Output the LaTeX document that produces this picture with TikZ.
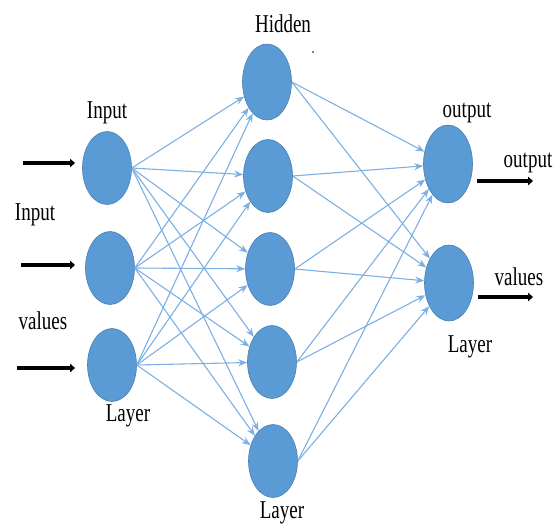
\documentclass[tikz,border=0pt]{standalone}
\usepackage{fontspec}
\setmainfont{Liberation Serif}
\usetikzlibrary{shapes.geometric,arrows.meta}
\definecolor{nodefill}{HTML}{5B9BD5}
\definecolor{nodeedge}{HTML}{4A7EB0}
\definecolor{linkcol}{HTML}{7DB0E2}
\tikzset{
  neuron/.style={ellipse,fill=nodefill,draw=nodeedge,line width=0.6pt,minimum width=49pt,minimum height=73pt,inner sep=0pt},
  link/.style={draw=linkcol,line width=1.1pt,-{Stealth[length=9pt,width=7pt]}},
  fatarrow/.style={line width=4.6pt,-{Triangle[length=5pt,width=8.5pt]}},
  lbl/.style={inner sep=0pt,font=\fontsize{19}{21}\selectfont}
}
\newcommand{\stretched}[1]{\scalebox{1}[1.35]{#1}}
\begin{document}
\begin{tikzpicture}[x=1pt,y=-1pt]
\useasboundingbox (0,0) rectangle (557,527);
% input layer
\node[neuron] (I1) at (107,168) {};
\node[neuron] (I2) at (110,268) {};
\node[neuron] (I3) at (112,365) {};
% hidden layer
\node[neuron,minimum height=76pt] (H1) at (267,82) {};
\node[neuron] (H2) at (268,176) {};
\node[neuron] (H3) at (270,269) {};
\node[neuron] (H4) at (272,362) {};
\node[neuron] (H5) at (273,461) {};
% output layer
\node[neuron,minimum height=78pt] (O1) at (448,164) {};
\node[neuron,minimum height=76pt] (O2) at (449,283) {};
% links
\foreach \i in {1,2,3}{
  \foreach \h in {1,...,5}{
    \draw[link] (I\i.east) -- (H\h);
  }
}
\foreach \h in {1,...,5}{
  \foreach \o in {1,2}{
    \draw[link] (H\h.east) -- (O\o);
  }
}
% input arrows
\coordinate (a1s) at (23,163); \coordinate (a1e) at (75,163);
\coordinate (a2s) at (21,265); \coordinate (a2e) at (75,265);
\coordinate (a3s) at (17,368); \coordinate (a3e) at (75,368);
\draw[fatarrow] (a1s) -- (a1e);
\draw[fatarrow] (a2s) -- (a2e);
\draw[fatarrow] (a3s) -- (a3e);
% output arrows
\coordinate (b1s) at (477,181); \coordinate (b1e) at (533,181);
\coordinate (b2s) at (478,297); \coordinate (b2e) at (533,297);
\draw[fatarrow] (b1s) -- (b1e);
\draw[fatarrow] (b2s) -- (b2e);
% labels
\node[lbl] (tHidden) at (283,24) {\stretched{Hidden}};
\node[lbl] (tIn1) at (107,113) {\stretched{Input}};
\node[lbl] (tIn2) at (35,215) {\stretched{Input}};
\node[lbl] (tVal1) at (43,321) {\stretched{values}};
\node[lbl] (tLay1) at (128,416) {\stretched{Layer}};
\node[lbl] (tLay2) at (282,513) {\stretched{Layer}};
\node[lbl] (tOut1) at (467,113) {\stretched{output}};
\node[lbl] (tOut2) at (528,163) {\stretched{output}};
\node[lbl] (tVal2) at (519,277) {\stretched{values}};
\node[lbl] (tLay3) at (470,347) {\stretched{Layer}};
\fill (313,52) circle (0.9pt);
\end{tikzpicture}
\end{document}
